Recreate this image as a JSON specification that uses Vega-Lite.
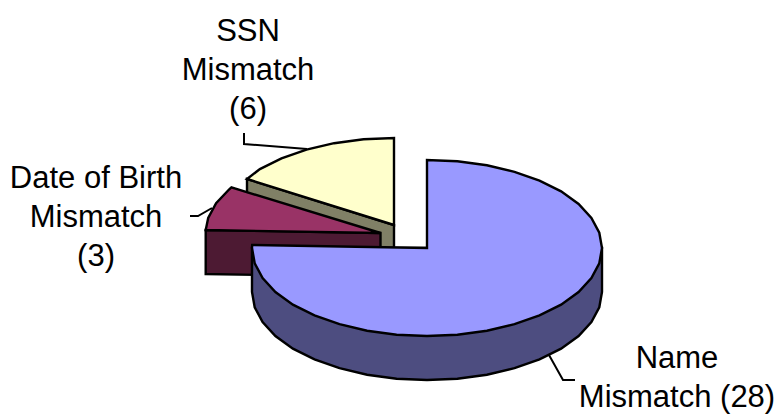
{"$schema":"https://vega.github.io/schema/vega-lite/v6.json","width":778,"height":414,"padding":0,"autosize":{"type":"fit","contains":"padding"},"background":"white","view":{"stroke":null},"projection":{"type":"identity","scale":1,"translate":[0,0]},"layer":[{"data":{"values":[
{"type":"Feature","properties":{"part":"SSN wall"},"geometry":{"type":"Polygon","coordinates":[[[247,179],[394,225],[394,269],[247,223],[247,179]]]}},
{"type":"Feature","properties":{"part":"SSN top"},"geometry":{"type":"Polygon","coordinates":[[[394,225],[247,179],[259.9,169.1],[281.5,158.4],[306.5,149.7],[334.1,143.2],[363.6,139.3],[394,138],[394,225]]]}},
{"type":"Feature","properties":{"part":"DOB wall"},"geometry":{"type":"Polygon","coordinates":[[[205.7,230],[380.5,233],[380.5,277],[205.7,274],[205.7,230]]]}},
{"type":"Feature","properties":{"part":"DOB top"},"geometry":{"type":"Polygon","coordinates":[[[380.5,233],[205.7,230],[208.2,217.9],[216.1,203.2],[229,189.5],[231.4,187.4],[380.5,233]]]}},
{"type":"Feature","properties":{"part":"Name wall"},"geometry":{"type":"Polygon","coordinates":[[[602,248],[602,292],[599.3,307.3],[591.4,322.1],[578.6,336],[561.1,348.6],[539.5,359.4],[514.5,368.2],[486.9,374.7],[457.4,378.7],[427,380],[396.6,378.7],[367.1,374.7],[339.5,368.2],[314.5,359.4],[292.9,348.6],[275.4,336],[262.6,322.1],[254.7,307.3],[252,292],[252,248],[602,248]]]}},
{"type":"Feature","properties":{"part":"Name top"},"geometry":{"type":"Polygon","coordinates":[[[427,248],[427,160],[457.4,161.3],[486.9,165.3],[514.5,171.8],[539.5,180.6],[561.1,191.4],[578.6,204],[591.4,217.9],[599.3,232.7],[602,248],[599.3,263.3],[591.4,278.1],[578.6,292],[561.1,304.6],[539.5,315.4],[514.5,324.2],[486.9,330.7],[457.4,334.7],[427,336],[396.6,334.7],[367.1,330.7],[339.5,324.2],[314.5,315.4],[292.9,304.6],[275.4,292],[262.6,278.1],[254.7,263.3],[252,248],[252.2,245],[427,248]]]}}
]},"mark":{"type":"geoshape","stroke":"black","strokeWidth":2.4,"strokeJoin":"miter"},"encoding":{"fill":{"field":"properties.part","type":"nominal","legend":null,"sort":null,"scale":{"domain":["SSN wall","SSN top","DOB wall","DOB top","Name wall","Name top"],"range":["#808066","#FFFFCC","#4D1A33","#993366","#4D4D80","#9999FF"]}}}},
{"data":{"values":[
{"type":"Feature","properties":{"leader":"SSN"},"geometry":{"type":"LineString","coordinates":[[244,133],[244,144],[307,149]]}},
{"type":"Feature","properties":{"leader":"DOB"},"geometry":{"type":"LineString","coordinates":[[190,216],[198,216],[212,208]]}},
{"type":"Feature","properties":{"leader":"Name"},"geometry":{"type":"LineString","coordinates":[[549,355],[563,380],[575,380]]}}
]},"mark":{"type":"geoshape","filled":false,"fill":null,"stroke":"black","strokeWidth":2}},
{"data":{"values":[
{"label":"SSN\nMismatch\n(6)","lon":248,"lat":41,"count":6},
{"label":"Date of Birth\nMismatch\n(3)","lon":96,"lat":188,"count":3},
{"label":"Name\nMismatch (28)","lon":677,"lat":368,"count":28}
]},"mark":{"type":"text","font":"Liberation Sans","fontSize":31,"lineBreak":"\n","lineHeight":39,"align":"center","baseline":"alphabetic","color":"black"},"encoding":{"longitude":{"field":"lon","type":"quantitative"},"latitude":{"field":"lat","type":"quantitative"},"text":{"field":"label","type":"nominal"}}}
]}
